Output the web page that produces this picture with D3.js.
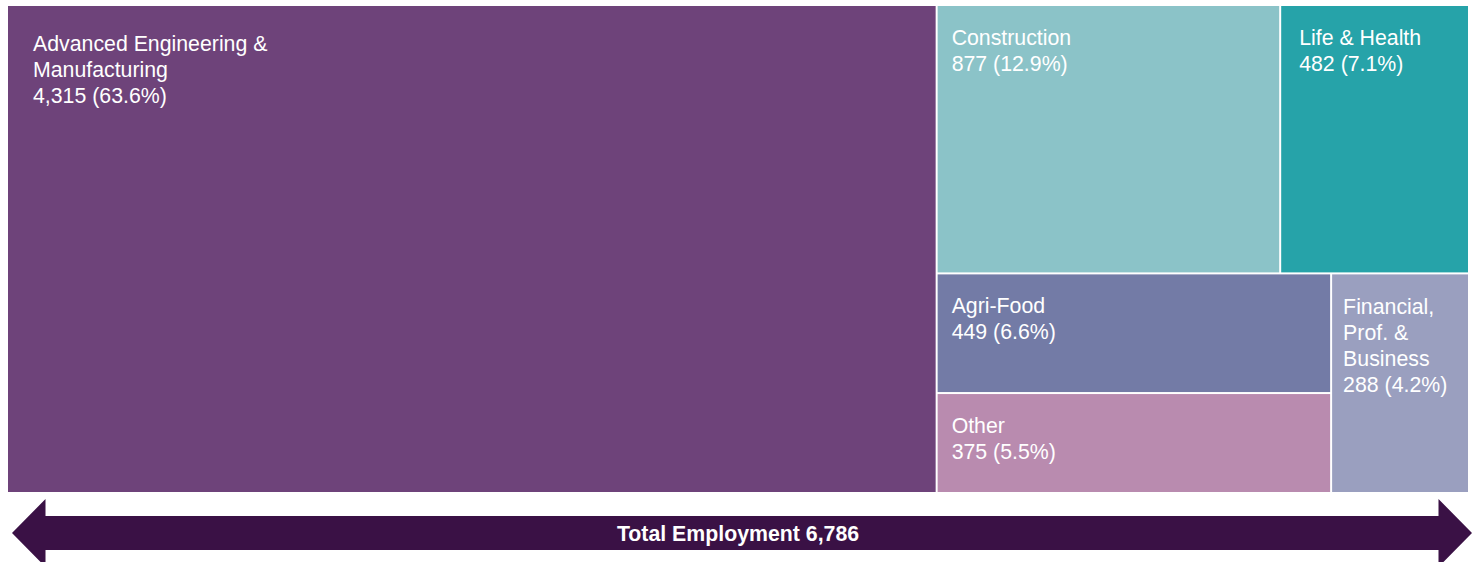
<!DOCTYPE html>
<html>
<head>
<meta charset="utf-8">
<script src="https://cdn.jsdelivr.net/npm/d3@7"></script>
<style>
  html, body { margin: 0; padding: 0; background: #ffffff; }
  svg { display: block; }
  text { font-family: "Liberation Sans", Arial, sans-serif; }
</style>
</head>
<body>
<svg id="chart" width="1480" height="562"></svg>
<script>
// ---- Data ----
const categories = ["Advanced Engineering & Manufacturing", "Construction", "Life & Health", "Agri-Food", "Other", "Financial, Prof. & Business"];
const labelLines = [["Advanced Engineering &", "Manufacturing"], ["Construction"], ["Life & Health"], ["Agri-Food"], ["Other"], ["Financial,", "Prof. &", "Business"]];
const employment = [4315, 877, 482, 449, 375, 288];
const shares = ["63.6%", "12.9%", "7.1%", "6.6%", "5.5%", "4.2%"];
const totalLabel = "Total Employment";
const totalEmployment = 6786;

// ---- Styles ----
const colors = ["#6e437a", "#8bc3c8", "#26a3a9", "#737ba6", "#b98baf", "#9a9fbf"];
const arrowColor = "#3a1145";
const labelInsetX = [25, 14, 18, 14, 14, 11];
const labelInsetY = [45, 39, 39, 39, 39, 40];

const svg = d3.select("#chart");
const X0 = 8, X1 = 1468, Y0 = 6, Y1 = 492;

// Hierarchy that reproduces the slide's tiling (slice/dice alternation)
const leaf = i => ({ name: categories[i], idx: i, value: employment[i] });
const tree = {
  name: "root",
  children: [
    leaf(0),
    { name: "rest", children: [
      { name: "top", children: [leaf(1), leaf(2)] },
      { name: "bottom", children: [
        { name: "stack", children: [leaf(3), leaf(4)] },
        leaf(5)
      ]}
    ]}
  ]
};

const root = d3.hierarchy(tree).sum(d => d.value || 0);
d3.treemap()
  .tile(d3.treemapSliceDice)
  .size([X1 - X0, Y1 - Y0])
  .paddingInner(2)
  .round(false)(root);

const fmt = d3.format(",");
const g = svg.append("g").attr("transform", `translate(${X0},${Y0})`);
const leaves = g.selectAll("g.leaf").data(root.leaves()).join("g")
  .attr("class", "leaf")
  .attr("transform", d => `translate(${d.x0},${d.y0})`);

leaves.append("rect")
  .attr("width", d => d.x1 - d.x0)
  .attr("height", d => d.y1 - d.y0)
  .attr("fill", d => colors[d.data.idx]);

leaves.each(function(d) {
  const i = d.data.idx;
  const lines = labelLines[i].concat([`${fmt(employment[i])} (${shares[i]})`]);
  const t = d3.select(this).append("text")
    .attr("fill", "#ffffff")
    .attr("font-size", "21.3px")
    .attr("x", labelInsetX[i])
    .attr("y", labelInsetY[i]);
  lines.forEach((ln, k) => {
    t.append("tspan").attr("x", labelInsetX[i]).attr("dy", k === 0 ? 0 : 26).text(ln);
  });
});

// ---- Double-headed arrow ----
const xs = d3.scaleLinear().domain([0, 1]).range([12, 1472]);
const cy = 533, shaftH = 17, headH = 34, headW = 33.5;
const pts = [
  [xs(0), cy],
  [xs(0) + headW, cy - headH],
  [xs(0) + headW, cy - shaftH],
  [xs(1) - headW, cy - shaftH],
  [xs(1) - headW, cy - headH],
  [xs(1), cy],
  [xs(1) - headW, cy + headH],
  [xs(1) - headW, cy + shaftH],
  [xs(0) + headW, cy + shaftH],
  [xs(0) + headW, cy + headH]
];
svg.append("path")
  .attr("d", d3.line()(pts) + "Z")
  .attr("fill", arrowColor);

svg.append("text")
  .attr("x", (X0 + X1) / 2)
  .attr("y", 541)
  .attr("text-anchor", "middle")
  .attr("fill", "#ffffff")
  .attr("font-weight", "bold")
  .attr("font-size", "21.3px")
  .text(`${totalLabel} ${fmt(totalEmployment)}`);
</script>
</body>
</html>
